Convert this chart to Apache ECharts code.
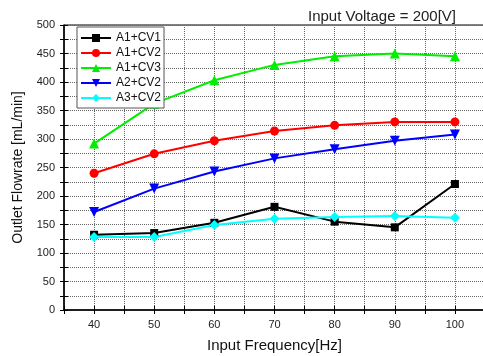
<!DOCTYPE html>
<html>
<head>
<meta charset="utf-8">
<script src="https://cdn.jsdelivr.net/npm/echarts@6/dist/echarts.min.js"></script>
<style>
  html, body { margin: 0; padding: 0; background: #fff; }
  #chart { width: 483px; height: 356px; }
</style>
</head>
<body>
<div id="chart"></div>
<script>
// 频率 (Hz)
const frequencies = [40, 50, 60, 70, 80, 90, 100];
// 各组合流量 (mL/min)
const a1cv1 = [132, 135, 153, 181, 155, 145, 221];
const a1cv2 = [240, 274, 297, 314, 324, 330, 330];
const a1cv3 = [292, 362, 403, 430, 445, 450, 445];
const a2cv2 = [172, 213, 243, 266, 282, 297, 308];
const a3cv2 = [128, 128, 149, 160, 163, 165, 162];

const chart = echarts.init(document.getElementById('chart'));
const font = 'Liberation Sans, Arial, sans-serif';

function makeSeries(name, values, color, symbol, size) {
  return {
    name: name,
    type: 'line',
    data: frequencies.map((f, i) => [f, values[i]]),
    symbol: symbol,
    symbolSize: size,
    lineStyle: { color: color, width: 2 },
    itemStyle: { color: color },
    xAxisIndex: 0,
    yAxisIndex: 0,
  };
}

const axisCommon = {
  axisLine: { show: true, lineStyle: { color: '#000', width: 1.5 } },
  splitLine: { show: true, lineStyle: { color: '#666', type: [1, 1], width: 1 } },
};

const option = {
  animation: false,
  backgroundColor: '#fff',
  title: {
    text: 'Input Voltage = 200[V]',
    right: 22,
    top: 4,
    textStyle: { fontFamily: font, fontSize: 15, fontWeight: 'normal', color: '#222' },
  },
  grid: {
    left: 64, right: -2, top: 25, bottom: 46,
    outerBoundsMode: 'none',
    containLabel: false,
    show: true, borderColor: '#000', borderWidth: 1,
  },
  legend: {
    orient: 'vertical',
    left: 77,
    top: 27,
    padding: [5, 3, 4, 3],
    itemGap: 3,
    itemWidth: 30,
    itemHeight: 10,
    backgroundColor: '#fff',
    borderColor: '#555',
    borderWidth: 1,
    textStyle: { fontFamily: font, fontSize: 12, color: '#111' },
    data: ['A1+CV1', 'A1+CV2', 'A1+CV3', 'A2+CV2', 'A3+CV2'],
  },
  xAxis: [
    {
      type: 'value',
      min: 35, max: 105, interval: 5,
      name: 'Input Frequency[Hz]',
      nameLocation: 'middle',
      nameGap: 28,
      nameTextStyle: { fontFamily: font, fontSize: 15, color: '#111' },
      axisTick: { show: true, length: 4, lineStyle: { color: '#000' } },
      axisLabel: {
        fontFamily: font, fontSize: 11, color: '#222', margin: 9,
        formatter: v => (v % 10 === 0 && v >= 40 && v <= 100) ? String(v) : '',
      },
      ...axisCommon,
    },
    {
      type: 'value',
      position: 'bottom',
      min: 35, max: 105, interval: 5,
      axisLine: { show: false },
      axisTick: { show: true, inside: true, length: 4, lineStyle: { color: '#000' } },
      axisLabel: { show: false },
      splitLine: { show: false },
    },
  ],
  yAxis: [
    {
      type: 'value',
      min: 0, max: 500, interval: 25,
      name: 'Outlet Flowrate [mL/min]',
      nameLocation: 'middle',
      nameGap: 39,
      nameTextStyle: { fontFamily: font, fontSize: 14, color: '#111' },
      axisTick: { show: true, length: 4, lineStyle: { color: '#000' } },
      axisLabel: {
        fontFamily: font, fontSize: 11, color: '#222', margin: 9,
        formatter: v => (v % 50 === 0) ? String(v) : '',
      },
      ...axisCommon,
    },
    {
      type: 'value',
      position: 'left',
      min: 0, max: 500, interval: 25,
      axisLine: { show: false },
      axisTick: { show: true, inside: true, length: 4, lineStyle: { color: '#000' } },
      axisLabel: { show: false },
      splitLine: { show: false },
    },
  ],
  series: [
    makeSeries('A1+CV1', a1cv1, '#000000', 'rect', 8),
    makeSeries('A1+CV2', a1cv2, '#ff0000', 'circle', 9),
    makeSeries('A1+CV3', a1cv3, '#00ee00', 'triangle', 10),
    makeSeries('A2+CV2', a2cv2, '#0000ff', 'path://M0,0 L10,0 L5,10 Z', 10),
    makeSeries('A3+CV2', a3cv2, '#00ffff', 'diamond', 10),
  ],
};

chart.setOption(option);
</script>
</body>
</html>
